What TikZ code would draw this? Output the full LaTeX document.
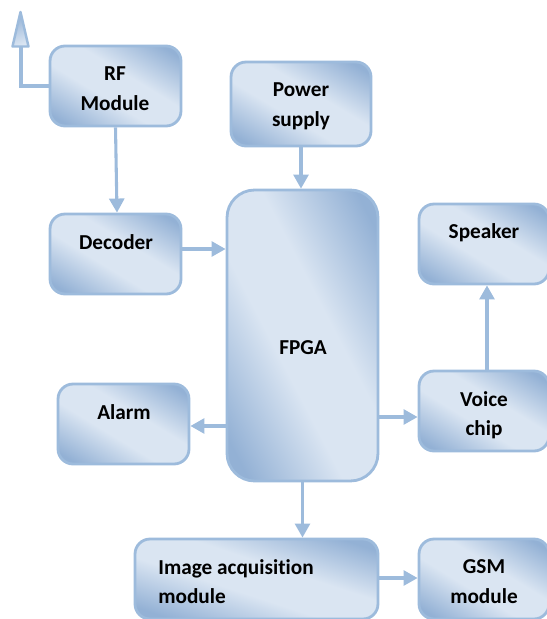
\documentclass[tikz,border=0pt]{standalone}
\usepackage{fontspec}
\setmainfont[Ligatures=NoCommon]{Carlito}
\usetikzlibrary{arrows.meta}
\definecolor{edgeblue}{HTML}{9DBBDC}
\definecolor{darkblue}{HTML}{93B1D5}
\definecolor{lightblue}{HTML}{DAE5F2}
\pgfdeclarefunctionalshading{blockshade}{\pgfpointorigin}{\pgfpoint{100bp}{100bp}}{}{
  50 sub 25 div exch 50 sub 25 div add abs
  0.45 sub 1.25 div dup 0 lt {pop 0} if dup 1 gt {pop 1} if
  dup -0.278 mul 0.855 add exch dup -0.204 mul 0.898 add exch -0.114 mul 0.949 add
}
\tikzset{
  block/.style={draw=edgeblue,line width=1.6pt,rounded corners=0.3cm,inner sep=0pt,shade,shading=blockshade},
  name text/.style={font=\fontsize{12.1}{16.8}\selectfont\bfseries,align=center,inner sep=0pt},
  conn/.style={draw=edgeblue,line width=1.75pt,-{Triangle[width=8.5pt,length=8pt]}},
  wire/.style={draw=edgeblue,line width=1.75pt}
}
\begin{document}
\begin{tikzpicture}[x=0.02cm,y=-0.02cm]
  \useasboundingbox (0,0) rectangle (547,619);
  % boxes
  \node[block,minimum width=2.62cm,minimum height=1.6cm] (rf) at (115.5,86) {};
  \node[block,minimum width=2.8cm,minimum height=1.68cm] (power) at (301,104) {};
  \node[block,minimum width=2.62cm,minimum height=1.6cm] (decoder) at (115.5,254) {};
  \node[block,minimum width=3.02cm,minimum height=5.82cm,rounded corners=0.55cm] (fpga) at (302.5,335.5) {};
  \node[block,minimum width=2.6cm,minimum height=1.6cm] (speaker) at (484,244) {};
  \node[block,minimum width=2.6cm,minimum height=1.6cm] (voice) at (484,411) {};
  \node[block,minimum width=2.62cm,minimum height=1.6cm] (alarm) at (123.5,424) {};
  \node[block,minimum width=4.86cm,minimum height=1.6cm] (image) at (256.5,579) {};
  \node[block,minimum width=2.6cm,minimum height=1.6cm] (gsm) at (484,579) {};
  % labels
  \node[name text] (rftext) at (115,88.5) {RF\\Module};
  \node[name text] (powertext) at (301,106.5) {Power\\supply};
  \node[name text] (decodertext) at (116,242) {Decoder};
  \node[name text] (fpgatext) at (303,348) {FPGA};
  \node[name text] (speakertext) at (484,233) {Speaker};
  \node[name text] (voicetext) at (484,415) {Voice\\chip};
  \node[name text] (alarmtext) at (124,412) {Alarm};
  \node[name text,align=left,anchor=west] (imagetext) at (158,581.5) {Image acquisition\\module};
  \node[name text] (gsmtext) at (484,581.5) {GSM\\module};
  % connectors
  \draw[conn] (rf.south) -- ([xshift=0.03cm]decoder.north);
  \draw[conn] (power.south) -- (power.south |- fpga.north);
  \draw[conn] ([yshift=0.1cm]decoder.east) -- ([yshift=0.1cm]decoder.east -| fpga.west);
  \draw[conn] ([yshift=-0.04cm]alarm.east -| fpga.west) -- ([yshift=-0.04cm]alarm.east);
  \draw[conn] ([yshift=-0.12cm]voice.west -| fpga.east) -- ([yshift=-0.12cm]voice.west);
  \draw[conn] (voice.north) ++(0.06cm,0) coordinate (vtop) -- (vtop |- speaker.south);
  \draw[conn] (fpga.south) -- (fpga.south |- image.north);
  \draw[conn] ([yshift=0.02cm]image.east) -- ([yshift=0.02cm]gsm.west);
  % aerial
  \coordinate (aerial) at (21,47);
  \draw[wire] (rf.west) -- (rf.west -| aerial) -- (aerial);
  \draw[draw=edgeblue,line width=1.4pt,line join=round,bottom color=lightblue,top color=darkblue,shading angle=20]
    (12.5,46.5) -- (20.5,12) -- (28.5,46.5) -- cycle;
\end{tikzpicture}
\end{document}
